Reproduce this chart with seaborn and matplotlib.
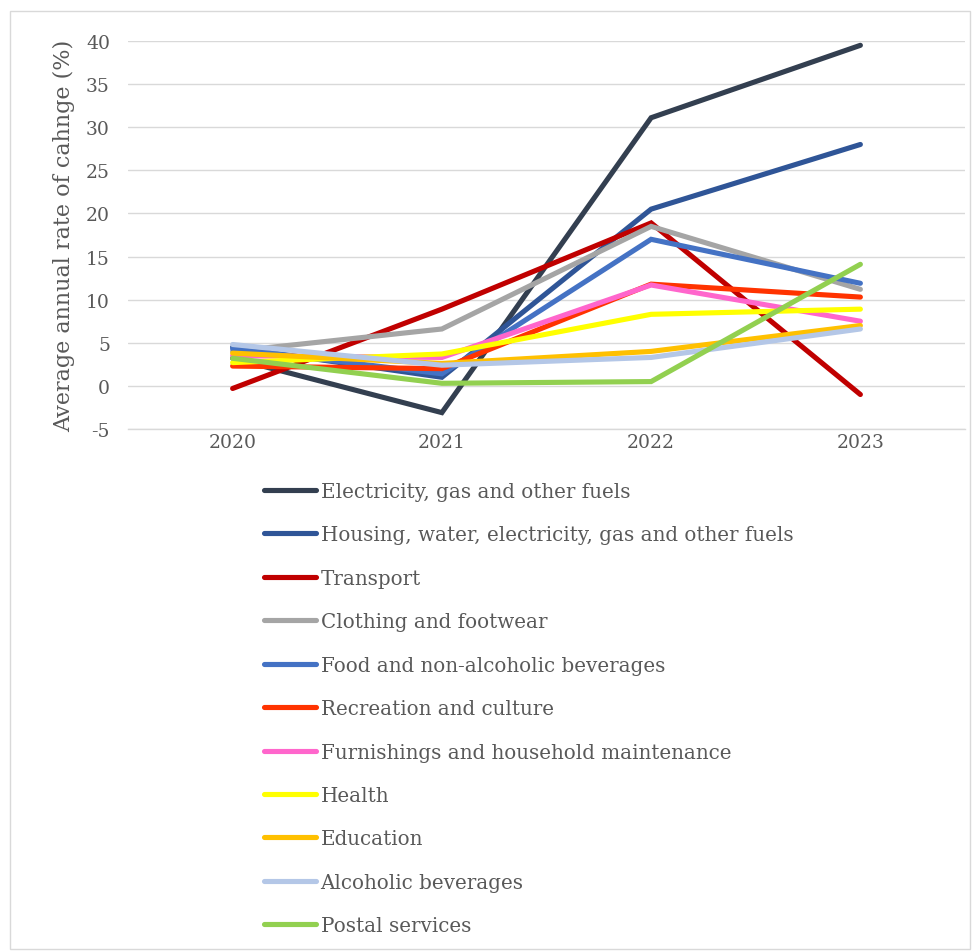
import matplotlib
matplotlib.use("Agg")
import matplotlib.pyplot as plt
from matplotlib.patches import Rectangle
from matplotlib.lines import Line2D
import seaborn as sns
import pandas as pd

years = ["2020", "2021", "2022", "2023"]

electricity = [3.2, -3.1, 31.1, 39.5]
housing = [4.5, 1.0, 20.5, 28.0]
transport = [-0.3, 8.9, 18.9, -1.0]
clothing = [4.0, 6.6, 18.5, 11.2]
food = [4.3, 1.4, 17.0, 11.9]
recreation = [2.3, 2.0, 11.8, 10.3]
furnishings = [3.5, 3.3, 11.7, 7.5]
health = [2.7, 3.7, 8.3, 8.9]
education = [3.8, 2.6, 4.0, 7.0]
alcoholic = [4.8, 2.4, 3.3, 6.6]
postal = [3.2, 0.3, 0.5, 14.1]

series_names = [
    "Electricity, gas and other fuels",
    "Housing, water, electricity, gas and other fuels",
    "Transport",
    "Clothing and footwear",
    "Food and non-alcoholic beverages",
    "Recreation and culture",
    "Furnishings and household maintenance",
    "Health",
    "Education",
    "Alcoholic beverages",
    "Postal services",
]
series_values = [electricity, housing, transport, clothing, food, recreation,
                 furnishings, health, education, alcoholic, postal]
colors = ["#333F50", "#2F5597", "#C00000", "#A5A5A5", "#4472C4", "#FF3300",
          "#FF66CC", "#FFFF00", "#FFC000", "#B4C7E7", "#92D050"]

rows = []
for name, vals in zip(series_names, series_values):
    for i, v in enumerate(vals):
        rows.append({"series": name, "pos": i, "value": v})
df = pd.DataFrame(rows)

sns.set_theme(style="white")
plt.rcParams["font.family"] = ["DejaVu Serif"]
text_color = "#595959"

fig = plt.figure(figsize=(9.76, 9.53), dpi=100)
fig.patch.set_facecolor("white")
W, H = 976, 953
ax = fig.add_axes([128 / W, 1 - 430 / H, (965 - 128) / W, (430 - 42) / H])

palette = dict(zip(series_names, colors))
sns.lineplot(data=df, x="pos", y="value", hue="series", hue_order=series_names,
             palette=palette, linewidth=3.7, sort=False, legend=False, ax=ax,
             solid_capstyle="round", solid_joinstyle="miter")

ax.set_xlim(-0.5, 3.5)
ax.set_ylim(-5, 40)
ax.set_yticks(range(-5, 41, 5))
ax.set_yticklabels([str(v) for v in range(-5, 41, 5)])
ax.set_xticks(range(len(years)))
ax.set_xticklabels(years)
ax.tick_params(axis="both", length=0, labelsize=13.5, colors=text_color)
ax.tick_params(axis="y", pad=13)
ax.tick_params(axis="x", pad=3)
ax.yaxis.grid(True, color="#D9D9D9", linewidth=1)
ax.set_axisbelow(True)
for s in ["top", "right", "left"]:
    ax.spines[s].set_visible(False)
ax.spines["bottom"].set_color("#D9D9D9")
ax.spines["bottom"].set_linewidth(1)
ax.set_xlabel("")
ax.set_ylabel("Average annual rate of cahnge (%)", fontsize=16, color=text_color,
              labelpad=8)

handles = [Line2D([0], [0], color=c, linewidth=3.7, solid_capstyle="round")
           for c in colors]
fig.legend(handles, series_names, loc="upper left",
           bbox_to_anchor=(264 / W, 1 - 483 / H), frameon=False,
           fontsize=14.3, labelcolor=text_color, handlelength=2.6,
           handletextpad=0.25, labelspacing=1.23, borderaxespad=0, borderpad=0)

fig.patches.append(Rectangle((10 / W, 1 - 950 / H), 960 / W, 938 / H,
                             transform=fig.transFigure, fill=False,
                             edgecolor="#D9D9D9", linewidth=1))

fig.savefig("out.png", dpi=100)
